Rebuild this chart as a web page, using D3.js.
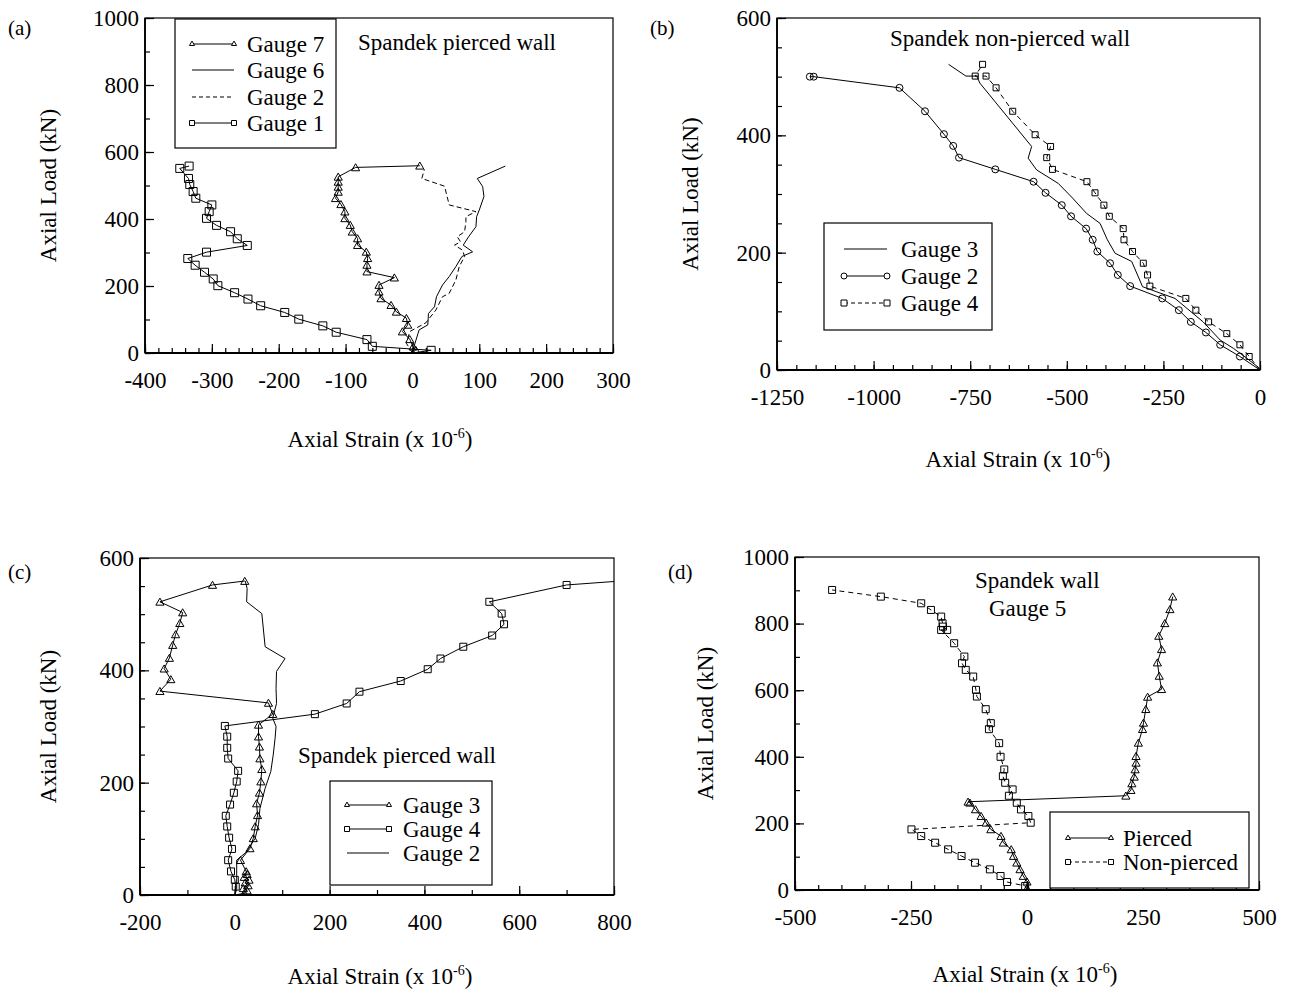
<!DOCTYPE html>
<html><head><meta charset="utf-8">
<script src="https://cdn.jsdelivr.net/npm/d3@7"></script>
<style>
body{margin:0;background:#fff}
text{font-family:"Liberation Serif","Times New Roman",serif;fill:#000}
</style>
</head><body>
<svg id="chart" width="1290" height="994"></svg>
<script>
// ---------- DATA: [axial strain (x10^-6), axial load (kN)] ----------
// Panel (a) Spandek pierced wall
const aGauge7 = [[0,0],[5,9],[1,19],[-4,41],[-15,64],[-7,84],[-9,104],[-24,123],[-32,143],[-47,163],[-50,183],[-50,203],[-27,225],[-68,243],[-68,263],[-67,283],[-69,302],[-82,322],[-82,342],[-90,362],[-93,382],[-101,402],[-101,422],[-107,444],[-115,462],[-111,481],[-111,496],[-111,511],[-111,526],[-85,554],[11,559]];
const aGauge6 = [[0,0],[0,4],[10,69],[23,84],[24,118],[33,138],[36,168],[45,203],[55,228],[65,258],[74,288],[90,302],[76,322],[84,347],[95,377],[96,407],[100,427],[107,467],[105,497],[97,521],[139,558]];
const aGauge2 = [[0,0],[-9,29],[-4,64],[20,90],[35,128],[45,168],[55,178],[65,218],[70,258],[78,288],[75,307],[63,322],[72,332],[67,347],[78,362],[80,392],[80,407],[95,422],[55,442],[48,498],[14,521],[18,548]];
const aGauge1 = [[0,0],[28,8],[-60,20],[-68,40],[-114,62],[-134,81],[-170,101],[-191,121],[-227,141],[-246,161],[-266,180],[-291,201],[-298,221],[-311,241],[-325,262],[-336,282],[-308,301],[-247,321],[-262,341],[-272,362],[-293,381],[-308,402],[-304,422],[-300,442],[-324,462],[-328,482],[-333,503],[-335,521],[-348,551],[-334,558]];
// Panel (b) Spandek non-pierced wall
const bGauge3 = [[0,0],[-5,5],[-34,20],[-69,37],[-103,51],[-147,82],[-220,122],[-304,142],[-332,185],[-375,199],[-395,222],[-414,250],[-449,267],[-485,293],[-522,318],[-578,341],[-600,361],[-591,381],[-725,489],[-733,501],[-761,501],[-806,521]];
const bGauge2 = [[0,0],[-52,23],[-103,43],[-140,64],[-179,82],[-210,102],[-253,122],[-336,143],[-368,162],[-388,182],[-421,202],[-433,222],[-450,241],[-489,262],[-513,281],[-555,302],[-586,321],[-685,342],[-779,362],[-794,382],[-818,402],[-867,441],[-933,481],[-1155,500],[-1165,500]];
const bGauge4 = [[0,0],[-28,23],[-52,43],[-86,62],[-133,82],[-166,102],[-192,122],[-285,143],[-291,162],[-302,182],[-330,202],[-352,222],[-354,241],[-390,262],[-404,281],[-427,302],[-448,321],[-537,342],[-552,362],[-542,381],[-582,401],[-640,441],[-683,481],[-709,501],[-737,501],[-718,521]];
// Panel (c) Spandek pierced wall
const cGauge3 = [[0,0],[20,3],[26,8],[18,12],[28,17],[22,22],[30,27],[20,32],[26,37],[24,42],[12,62],[32,83],[39,101],[43,122],[48,142],[46,163],[52,182],[55,202],[57,224],[53,243],[52,264],[50,282],[50,303],[80,322],[71,342],[-158,363],[-135,384],[-149,403],[-138,422],[-131,445],[-125,464],[-116,484],[-110,503],[-158,522],[-47,552],[21,559]];
const cGauge4 = [[0,0],[2,15],[0,27],[-8,42],[-14,62],[-6,82],[-12,102],[-16,122],[-19,141],[-10,161],[-2,182],[4,202],[7,221],[-14,243],[-16,262],[-16,282],[-21,301],[169,322],[236,341],[263,362],[350,381],[407,402],[434,421],[482,442],[543,462],[568,482],[563,501],[537,522],[700,552],[830,560]];
const cGauge2 = [[0,0],[4,10],[4,62],[25,77],[43,101],[50,125],[53,154],[64,190],[76,220],[81,249],[85,279],[87,300],[80,315],[88,341],[87,368],[88,398],[106,421],[64,442],[57,501],[25,522],[26,546],[22,559]];
// Panel (d) Spandek wall, Gauge 5
const dPierced = [[0,0],[0,5],[0,25],[-8,42],[-15,62],[-22,82],[-29,102],[-34,122],[-51,142],[-56,162],[-78,182],[-88,202],[-99,222],[-111,242],[-123,262],[-127,265],[213,283],[224,300],[226,320],[231,340],[233,362],[235,382],[235,402],[240,442],[249,483],[251,502],[256,543],[260,580],[290,603],[285,643],[281,683],[290,723],[284,763],[297,801],[308,843],[314,881]];
const dNonPierced = [[0,0],[-4,12],[-43,24],[-57,42],[-80,62],[-112,82],[-141,102],[-170,122],[-198,142],[-228,162],[-249,182],[8,202],[3,222],[-13,242],[-22,262],[-39,283],[-31,302],[-47,322],[-52,342],[-49,362],[-57,400],[-60,441],[-82,483],[-78,501],[-89,543],[-108,581],[-110,601],[-116,641],[-132,661],[-140,681],[-135,701],[-157,741],[-185,781],[-172,781],[-181,791],[-182,801],[-185,821],[-207,841],[-228,861],[-315,881],[-420,901]];

// tick labels
const aXTicks = [-400,-300,-200,-100,0,100,200,300];
const aYTicks = [0,200,400,600,800,1000];
const bXTicks = [-1250,-1000,-750,-500,-250,0];
const bYTicks = [0,200,400,600];
const cXTicks = [-200,0,200,400,600,800];
const cYTicks = [0,200,400,600];
const dXTicks = [-500,-250,0,250,500];
const dYTicks = [0,200,400,600,800,1000];

// ---------- DRAWING ----------
const svg = d3.select('#chart');
const FS = 23;

function markerPath(type, s) {
  if (type === 'tri') return d3.symbol(d3.symbolTriangle, s * s * 0.45)();
  if (type === 'sq') return `M${-s/2},${-s/2}h${s}v${s}h${-s}Z`;
  if (type === 'circ') return d3.symbol(d3.symbolCircle, Math.PI * (s/2) * (s/2))();
  return null;
}

function range(a, b, step) { const r = []; for (let v = a; v <= b + 1e-9; v += step) r.push(v); return r; }

let clipId = 0;
function panel(p) {
  const g = svg.append('g');
  const x = d3.scaleLinear().domain(p.xDomain).range([p.left, p.right]);
  const y = d3.scaleLinear().domain(p.yDomain).range([p.bottom, p.top]);

  // minor & major ticks, inward
  const xMinor = range(p.xDomain[0], p.xDomain[1], p.xMinor);
  const yMinor = range(p.yDomain[0], p.yDomain[1], p.yMinor);
  g.append('g').attr('transform', `translate(0,${p.bottom})`)
    .call(d3.axisBottom(x).tickValues(xMinor).tickSize(-5).tickFormat(''))
    .call(s => s.select('.domain').remove());
  g.append('g').attr('transform', `translate(0,${p.bottom})`)
    .call(d3.axisBottom(x).tickValues(p.xTicks).tickSize(-9).tickPadding(19).tickFormat(d => String(d)))
    .call(s => s.select('.domain').remove())
    .call(s => s.selectAll('text').attr('font-size', FS).attr('font-family', '"Liberation Serif",serif'));
  g.append('g').attr('transform', `translate(${p.left},0)`)
    .call(d3.axisLeft(y).tickValues(yMinor).tickSize(-5).tickFormat(''))
    .call(s => s.select('.domain').remove());
  g.append('g').attr('transform', `translate(${p.left},0)`)
    .call(d3.axisLeft(y).tickValues(p.yTicks).tickSize(-9).tickPadding(6).tickFormat(d => String(d)))
    .call(s => s.select('.domain').remove())
    .call(s => s.selectAll('text').attr('font-size', FS).attr('font-family', '"Liberation Serif",serif'));
  g.selectAll('.tick line').attr('stroke', '#000').attr('stroke-width', 1.2);

  // frame
  g.append('rect').attr('x', p.left).attr('y', p.top).attr('width', p.right - p.left).attr('height', p.bottom - p.top)
    .attr('fill', 'none').attr('stroke', '#000').attr('stroke-width', 1.2);
  g.append('line').attr('x1', p.left).attr('x2', p.right).attr('y1', p.bottom).attr('y2', p.bottom).attr('stroke', '#000').attr('stroke-width', 2.2);
  g.append('line').attr('x1', p.left).attr('x2', p.left).attr('y1', p.top).attr('y2', p.bottom).attr('stroke', '#000').attr('stroke-width', 1.8);

  // clip
  const cid = 'clip' + (clipId++);
  svg.append('clipPath').attr('id', cid).append('rect')
    .attr('x', p.left).attr('y', p.top).attr('width', p.right - p.left).attr('height', p.bottom - p.top);
  const plot = g.append('g').attr('clip-path', `url(#${cid})`);

  const line = d3.line().x(d => x(d[0])).y(d => y(d[1]));
  p.series.forEach(s => {
    plot.append('path').datum(s.data).attr('d', line).attr('fill', 'none').attr('stroke', '#000')
      .attr('stroke-width', 1).attr('stroke-dasharray', s.dash || null);
    if (s.marker) {
      plot.selectAll(null).data(s.data.slice(1)).enter().append('path')
        .attr('d', markerPath(s.marker, s.size))
        .attr('transform', d => `translate(${x(d[0])},${y(d[1])})` + (s.marker === 'tri' ? ' translate(0,1)' : ''))
        .attr('fill', 'none').attr('stroke', '#000').attr('stroke-width', 1);
    }
  });

  // axis titles
  g.append('text').attr('transform', `translate(${p.yTitleX},${(p.top + p.bottom) / 2}) rotate(-90)`)
    .attr('text-anchor', 'middle').attr('dy', '0.35em').attr('font-size', FS).text('Axial Load (kN)');
  const xt = g.append('text').attr('x', p.xTitleX).attr('y', p.xTitleY).attr('text-anchor', 'middle').attr('font-size', FS);
  xt.append('tspan').text('Axial Strain (x 10');
  xt.append('tspan').attr('font-size', 14).attr('dy', -9).text('-6');
  xt.append('tspan').attr('dy', 9).text(')');

  // panel label
  g.append('text').attr('x', p.labelX).attr('y', p.labelY).attr('font-size', 21).text(p.label);

  // annotations
  p.notes.forEach(n => g.append('text').attr('x', n[0]).attr('y', n[1]).attr('font-size', FS).text(n[2]));

  // legend
  const L = p.legend;
  g.append('rect').attr('x', L.x).attr('y', L.y).attr('width', L.w).attr('height', L.h)
    .attr('fill', '#fff').attr('stroke', '#000').attr('stroke-width', 1.2);
  L.items.forEach((it, i) => {
    const cy = L.rows[i];
    g.append('line').attr('x1', L.sx0).attr('x2', L.sx1).attr('y1', cy).attr('y2', cy)
      .attr('stroke', '#000').attr('stroke-width', 1).attr('stroke-dasharray', it.dash || null);
    if (it.marker) {
      [L.sx0, L.sx1].forEach(mx => g.append('path').attr('d', markerPath(it.marker, L.ms))
        .attr('transform', `translate(${mx},${cy})`).attr('fill', '#fff').attr('stroke', '#000').attr('stroke-width', 1));
    }
    g.append('text').attr('x', L.tx).attr('y', cy).attr('dy', '0.35em').attr('font-size', FS).text(it.name);
  });
}

panel({
  left: 145, right: 613, top: 18, bottom: 353,
  xDomain: [-400, 300], yDomain: [0, 1000], xTicks: aXTicks, yTicks: aYTicks, xMinor: 20, yMinor: 100,
  series: [
    { data: aGauge7, marker: 'tri', size: 8 },
    { data: aGauge6 },
    { data: aGauge2, dash: '5,3' },
    { data: aGauge1, marker: 'sq', size: 8 }
  ],
  yTitleX: 48, xTitleX: 380, xTitleY: 447, label: '(a)', labelX: 8, labelY: 35,
  notes: [[358, 50, 'Spandek pierced wall']],
  legend: { x: 175, y: 19, w: 161, h: 129, rows: [44, 70, 97, 123], sx0: 192, sx1: 234, tx: 247, ms: 5,
    items: [{ name: 'Gauge 7', marker: 'tri' }, { name: 'Gauge 6' }, { name: 'Gauge 2', dash: '4,3' }, { name: 'Gauge 1', marker: 'sq' }] }
});

panel({
  left: 777, right: 1260, top: 18, bottom: 370,
  xDomain: [-1250, 0], yDomain: [0, 600], xTicks: bXTicks, yTicks: bYTicks, xMinor: 50, yMinor: 50,
  series: [
    { data: bGauge3 },
    { data: bGauge2, marker: 'circ', size: 7 },
    { data: bGauge4, marker: 'sq', size: 6, dash: '5,4' }
  ],
  yTitleX: 690, xTitleX: 1018, xTitleY: 467, label: '(b)', labelX: 650, labelY: 35,
  notes: [[890, 46, 'Spandek non-pierced wall']],
  legend: { x: 824, y: 223, w: 168, h: 107, rows: [249, 276, 303], sx0: 844, sx1: 887, tx: 901, ms: 6,
    items: [{ name: 'Gauge 3' }, { name: 'Gauge 2', marker: 'circ' }, { name: 'Gauge 4', marker: 'sq', dash: '4,3' }] }
});

panel({
  left: 140, right: 614, top: 558, bottom: 895,
  xDomain: [-200, 800], yDomain: [0, 600], xTicks: cXTicks, yTicks: cYTicks, xMinor: 100, yMinor: 50,
  series: [
    { data: cGauge3, marker: 'tri', size: 8 },
    { data: cGauge4, marker: 'sq', size: 7 },
    { data: cGauge2 }
  ],
  yTitleX: 48, xTitleX: 380, xTitleY: 984, label: '(c)', labelX: 8, labelY: 579,
  notes: [[298, 763, 'Spandek pierced wall']],
  legend: { x: 330, y: 781, w: 162, h: 104, rows: [805, 829, 853], sx0: 347, sx1: 389, tx: 403, ms: 5,
    items: [{ name: 'Gauge 3', marker: 'tri' }, { name: 'Gauge 4', marker: 'sq' }, { name: 'Gauge 2' }] }
});

panel({
  left: 795, right: 1259, top: 557, bottom: 890,
  xDomain: [-500, 500], yDomain: [0, 1000], xTicks: dXTicks, yTicks: dYTicks, xMinor: 50, yMinor: 100,
  series: [
    { data: dPierced, marker: 'tri', size: 8 },
    { data: dNonPierced, marker: 'sq', size: 7, dash: '5,4' }
  ],
  yTitleX: 705, xTitleX: 1025, xTitleY: 982, label: '(d)', labelX: 668, labelY: 579,
  notes: [[975, 588, 'Spandek wall'], [989, 616, 'Gauge 5']],
  legend: { x: 1050, y: 812, w: 199, h: 76, rows: [838, 862], sx0: 1068, sx1: 1111, tx: 1123, ms: 5,
    items: [{ name: 'Pierced', marker: 'tri' }, { name: 'Non-pierced', marker: 'sq', dash: '4,3' }] }
});
</script>
</body></html>
